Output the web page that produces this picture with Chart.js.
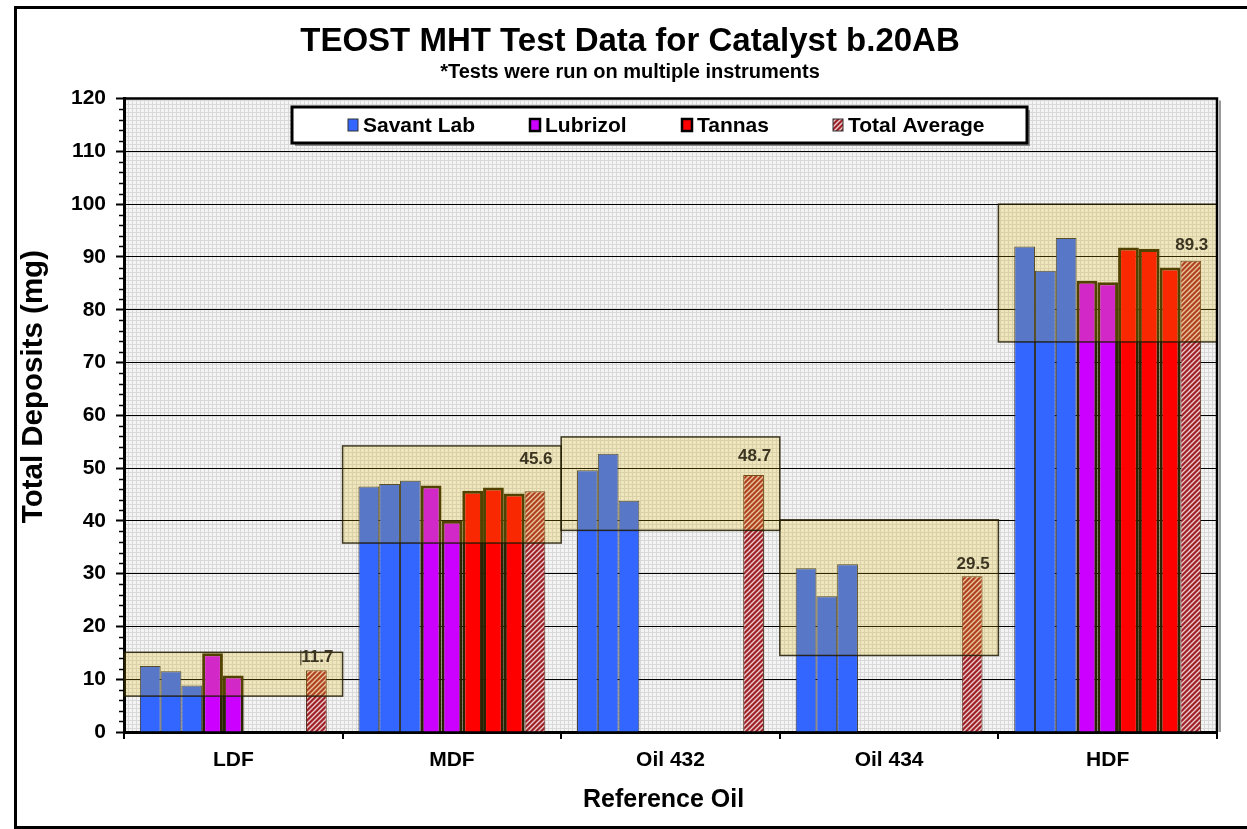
<!DOCTYPE html>
<html><head><meta charset="utf-8">
<script src="https://cdn.jsdelivr.net/npm/chart.js@4.4.1/dist/chart.umd.min.js"></script>
<style>html,body{margin:0;padding:0;background:#fff;}canvas{display:block;}</style>
</head><body>
<canvas id="c" width="1247" height="829" style="width:1247px;height:829px"></canvas>
<script>
// ---------- data ----------
const categories = ['LDF', 'MDF', 'Oil 432', 'Oil 434', 'HDF'];
const savant1   = [12.5, 46.5, 49.6, 31.0, 92.0];
const savant2   = [11.5, 47.0, 52.7, 25.7, 87.4];
const savant3   = [8.8, 47.6, 43.8, 31.8, 93.6];
const lubrizol1 = [14.9, 46.7, null, null, 85.5];
const lubrizol2 = [10.7, 40.0, null, null, 85.2];
const tannas1   = [null, 45.7, null, null, 91.8];
const tannas2   = [null, 46.3, null, null, 91.5];
const tannas3   = [null, 45.2, null, null, 88.0];
const totalAverage = [11.7, 45.6, 48.7, 29.5, 89.3];
const rangeLow  = [6.8, 35.8, 38.2, 14.5, 73.9];
const rangeHigh = [15.1, 54.2, 55.9, 40.2, 100.0];
const yTickLabels = ['0','10','20','30','40','50','60','70','80','90','100','110','120'];

// ---------- styles ----------
const FONT = "Arial, 'Liberation Sans', sans-serif";
const BLUE = '#3366FF', MAGENTA = '#CC00FF', RED = '#FF0000';
const THICK = '#2a2200';
const labelLift = [13, 32, 19, 12, 15];
const legendItems = [
  {label: 'Savant Lab', x: 348},
  {label: 'Lubrizol', x: 530},
  {label: 'Tannas', x: 682},
  {label: 'Total Average', x: 833}
];

const cv = document.getElementById('c');
const ctx = cv.getContext('2d');

function hatchPattern() {
  const s = 5, t = document.createElement('canvas');
  t.width = s; t.height = s;
  const g = t.getContext('2d');
  g.fillStyle = '#a02028'; g.fillRect(0, 0, s, s);
  g.strokeStyle = '#e9cccc'; g.lineWidth = 1.4;
  g.beginPath();
  g.moveTo(-1, s + 1); g.lineTo(s + 1, -1);
  g.moveTo(-1, 1); g.lineTo(1, -1);
  g.moveTo(s - 1, s + 1); g.lineTo(s + 1, s - 1);
  g.stroke();
  return ctx.createPattern(t, 'repeat');
}
function bgPattern() {
  const s = 4, t = document.createElement('canvas');
  t.width = s; t.height = s;
  const g = t.getContext('2d');
  g.fillStyle = '#f4f4f4'; g.fillRect(0, 0, s, s);
  g.fillStyle = '#d9d9d9';
  g.fillRect(0, 0, s, 1); g.fillRect(0, 0, 1, s);
  return ctx.createPattern(t, 'repeat');
}
const HATCH = hatchPattern();
const BG = bgPattern();

function ds(label, data, color, thick) {
  return {
    label, data,
    backgroundColor: color,
    borderColor: thick ? THICK : '#333333',
    borderWidth: thick ? 3 : 1,
    categoryPercentage: 0.855,
    barPercentage: 1.0
  };
}

const datasets = [
  ds('Savant Lab', savant1, BLUE, false),
  ds('Savant Lab', savant2, BLUE, false),
  ds('Savant Lab', savant3, BLUE, false),
  ds('Lubrizol', lubrizol1, MAGENTA, true),
  ds('Lubrizol', lubrizol2, MAGENTA, true),
  ds('Tannas', tannas1, RED, true),
  ds('Tannas', tannas2, RED, true),
  ds('Tannas', tannas3, RED, true),
  ds('Total Average', totalAverage, HATCH, false)
];
datasets[8].borderColor = '#553322';

const decor = {
  id: 'decor',
  beforeDraw(chart) {
    const c = chart.ctx, a = chart.chartArea;
    c.save();
    c.fillStyle = '#fff'; c.fillRect(0, 0, chart.width, chart.height);
    c.fillStyle = BG; c.fillRect(a.left, a.top, a.right - a.left, a.bottom - a.top);
    c.strokeStyle = '#000'; c.lineWidth = 3;
    c.strokeRect(15.5, 7.5, chart.width + 10, chart.height - 9);
    c.restore();
  },
  afterDatasetsDraw(chart) {
    const c = chart.ctx, x = chart.scales.x, y = chart.scales.y;
    const w = (chart.chartArea.right - chart.chartArea.left) / categories.length;
    c.save();
    categories.forEach((cat, i) => {
      const cx = x.getPixelForValue(i);
      const top = y.getPixelForValue(rangeHigh[i]);
      const bot = y.getPixelForValue(rangeLow[i]);
      c.fillStyle = 'rgba(229,182,0,0.22)';
      c.fillRect(cx - w / 2, top, w, bot - top);
      c.strokeStyle = 'rgba(30,25,0,0.85)'; c.lineWidth = 1.5;
      c.strokeRect(cx - w / 2, top, w, bot - top);
    });
    c.restore();
  },
  afterDraw(chart) {
    const c = chart.ctx, a = chart.chartArea, y = chart.scales.y;
    c.save();
    // minor ticks
    c.strokeStyle = '#000'; c.lineWidth = 1.5;
    for (let v = 0; v <= 120; v += 2) {
      if (v % 10 === 0) continue;
      const py = Math.round(y.getPixelForValue(v)) + 0.5;
      c.beginPath(); c.moveTo(a.left - 5, py); c.lineTo(a.left, py); c.stroke();
    }
    // plot border top/right with shadow
    c.strokeStyle = '#999'; c.lineWidth = 2;
    c.beginPath(); c.moveTo(a.right + 3, a.top + 2); c.lineTo(a.right + 3, a.bottom); c.stroke();
    c.strokeStyle = '#000'; c.lineWidth = 2.5;
    c.beginPath(); c.moveTo(a.left, a.top); c.lineTo(a.right, a.top); c.lineTo(a.right, a.bottom); c.stroke();
    // data labels on Total Average
    const meta = chart.getDatasetMeta(8);
    c.font = 'bold 17px ' + FONT;
    c.fillStyle = '#3a3420'; c.textAlign = 'center'; c.textBaseline = 'middle';
    meta.data.forEach((bar, i) => {
      c.fillText(totalAverage[i].toFixed(1), bar.x + 1, bar.y - labelLift[i]);
    });
    // small leader mark next to the first label
    const b0 = meta.data[0];
    c.strokeStyle = '#3a3420'; c.lineWidth = 1;
    c.beginPath(); c.moveTo(b0.x - 15.5, b0.y - 20); c.lineTo(b0.x - 15.5, b0.y - 5); c.stroke();
    // legend
    const lx = 292, ly = 107, lw = 735, lh = 36;
    c.fillStyle = '#8a8a8a'; c.fillRect(lx + 3, ly + 3, lw, lh);
    c.fillStyle = '#fff'; c.fillRect(lx, ly, lw, lh);
    c.strokeStyle = '#000'; c.lineWidth = 3; c.strokeRect(lx, ly, lw, lh);
    c.font = 'bold 21px ' + FONT; c.textAlign = 'left'; c.textBaseline = 'middle';
    const firsts = [0, 3, 5, 8];
    legendItems.forEach((it, k) => {
      const d = chart.data.datasets[firsts[k]];
      const mx = it.x, my = ly + lh / 2 - 6;
      c.fillStyle = d.backgroundColor;
      c.fillRect(mx, my, 10, 12);
      c.strokeStyle = d.borderWidth > 1 ? '#000' : '#333';
      c.lineWidth = d.borderWidth > 1 ? 2.5 : 1;
      c.strokeRect(mx, my, 10, 12);
      c.fillStyle = '#000';
      c.fillText(d.label, mx + 15, ly + lh / 2 + 1);
    });
    c.restore();
  }
};

new Chart(ctx, {
  type: 'bar',
  data: { labels: categories, datasets },
  plugins: [decor],
  options: {
    responsive: false,
    animation: false,
    devicePixelRatio: 1,
    layout: { padding: { left: 43, right: 30, top: 8, bottom: 0 } },
    plugins: {
      legend: { display: false },
      tooltip: { enabled: false },
      title: {
        display: true,
        text: 'TEOST MHT Test Data for Catalyst b.20AB',
        color: '#000',
        font: { family: FONT, size: 33, weight: 'bold' },
        padding: { top: 14, bottom: 0 }
      },
      subtitle: {
        display: true,
        text: '*Tests were run on multiple instruments',
        color: '#000',
        font: { family: FONT, size: 20, weight: 'bold', lineHeight: 1.1 },
        padding: { top: 0, bottom: 15 }
      }
    },
    scales: {
      x: {
        afterFit(s) { s.height = 97; },
        grid: { offset: true, drawOnChartArea: false, drawTicks: true, tickLength: 7, color: '#000', lineWidth: 2 },
        border: { display: true, color: '#000', width: 3 },
        ticks: { color: '#000', padding: 9, font: { family: FONT, size: 21, weight: 'bold' } },
        title: { display: true, text: 'Reference Oil  ', color: '#000', font: { family: FONT, size: 25, weight: 'bold' }, padding: { top: 0, bottom: 14 } }
      },
      y: {
        min: 0, max: 120,
        afterFit(s) { s.width = 81; },
        afterBuildTicks(s) { s.ticks = []; for (let v = 0; v <= 120; v += 2) s.ticks.push({ value: v }); },
        grid: {
          drawTicks: true, tickLength: 8,
          color: (c) => (c.tick && c.tick.value % 10 === 0) ? '#000' : 'rgba(0,0,0,0)',
          tickColor: (c) => (c.tick && c.tick.value % 10 === 0) ? '#000' : 'rgba(0,0,0,0)',
          lineWidth: 1, tickWidth: 2
        },
        border: { display: true, color: '#000', width: 3 },
        ticks: {
          autoSkip: false,
          color: '#000', padding: 10,
          font: { family: FONT, size: 21, weight: 'bold' },
          callback: (v) => (v % 10 === 0) ? yTickLabels[v / 10] : ''
        },
        title: { display: true, text: '\u00A0\u00A0\u00A0\u00A0\u00A0\u00A0\u00A0Total Deposits (mg)', color: '#000', font: { family: FONT, size: 29.5, weight: 'bold' }, padding: { top: -27, bottom: 0 } }
      }
    }
  }
});
</script>
</body></html>
